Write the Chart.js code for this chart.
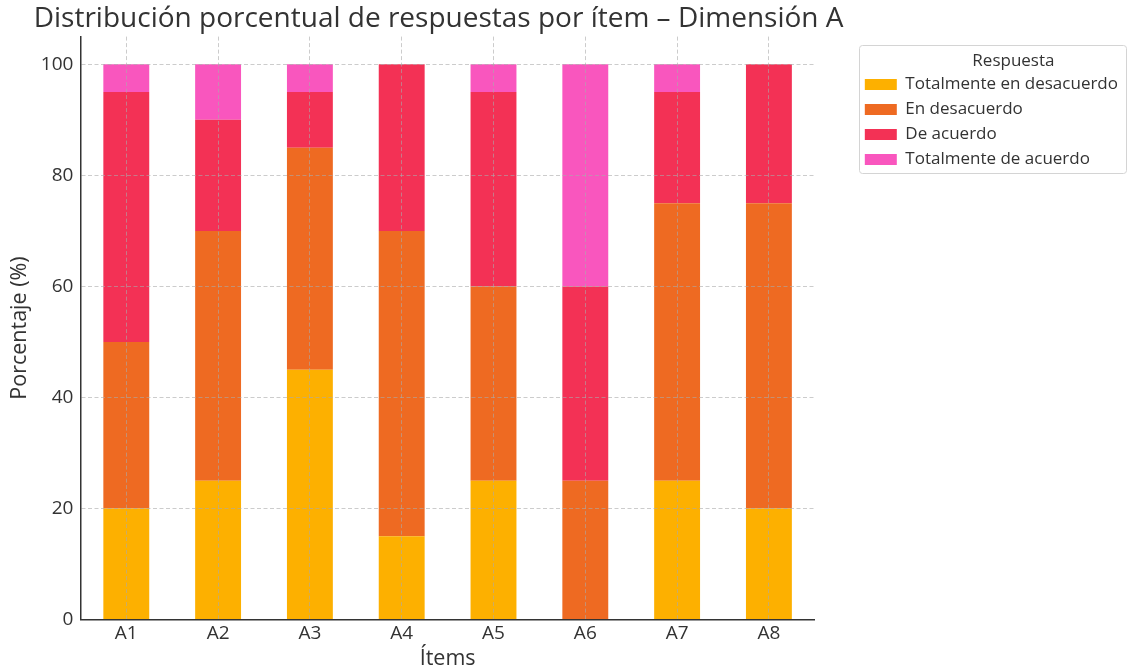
<!DOCTYPE html>
<html>
<head>
<meta charset="utf-8">
<script src="https://cdn.jsdelivr.net/npm/chart.js@4.4.1/dist/chart.umd.min.js"></script>
<style>
  html, body { margin: 0; padding: 0; background: #ffffff; }
  #wrap { width: 1132px; height: 668px; position: relative; }
</style>
</head>
<body>
<div id="wrap"><canvas id="chart"></canvas></div>
<script>
// Items of Dimension A
const items = ['A1', 'A2', 'A3', 'A4', 'A5', 'A6', 'A7', 'A8'];

// Percentage of answers per response option
const totalDesacuerdo = [20, 25, 45, 15, 25, 0, 25, 20];
const enDesacuerdo    = [30, 45, 40, 55, 35, 25, 50, 55];
const deAcuerdo       = [45, 20, 10, 30, 35, 35, 20, 25];
const totalAcuerdo    = [5, 10, 5, 0, 5, 40, 5, 0];

const seriesNames = ['Totalmente en desacuerdo', 'En desacuerdo', 'De acuerdo', 'Totalmente de acuerdo'];
const seriesColors = ['#FDB000', '#EE6A22', '#F33155', '#F956BE'];

// y-axis tick values
const yTicks = [0, 20, 40, 60, 80, 100];

const FONT = "'Open Sans', 'DejaVu Sans', sans-serif";
const TEXT = '#333333';
const GRID = 'rgba(170,170,170,0.6)';
const LEGEND_GAP = 42;     // empty space between plot area and legend frame
const TITLE_SHIFT = -9;    // title sits slightly left of the plot centre

// Widen the legend box and push its content right, leaving a gap after the plot;
// keep the full-width title centred over the plot area instead of the canvas
const layoutTweaks = {
  id: 'layoutTweaks',
  afterInit(chart) {
    const lg = chart.legend;
    if (!lg) return;
    const fit = lg.fit;
    lg.fit = function () { fit.call(this); this.width += LEGEND_GAP; };
  },
  afterLayout(chart) {
    if (chart.legend) chart.legend.left += LEGEND_GAP;
    const tb = chart.titleBlock;
    if (tb) {
      const area = chart.chartArea;
      const dx = (area.left + area.right) / 2 + TITLE_SHIFT - (tb.left + tb.right) / 2;
      tb.left += dx;
      tb.right += dx;
    }
  }
};

// Thin rounded frame around the legend title and entries
const legendFrame = {
  id: 'legendFrame',
  afterDraw(chart) {
    const lg = chart.legend;
    if (!lg || !lg.legendHitBoxes || !lg.legendHitBoxes.length) return;
    let l = Infinity, r = -Infinity, b = -Infinity;
    lg.legendHitBoxes.forEach(h => {
      l = Math.min(l, h.left); r = Math.max(r, h.left + h.width); b = Math.max(b, h.top + h.height);
    });
    const x = Math.round(l - 6), y = Math.round(lg.top + 45);
    const w = Math.round(r - l + 14), h = Math.round(b + 5 - y);
    const ctx = chart.ctx;
    ctx.save();
    ctx.strokeStyle = '#d4d4d4';
    ctx.lineWidth = 1;
    ctx.beginPath();
    ctx.roundRect(x + 0.5, y + 0.5, w, h, 3);
    ctx.stroke();
    ctx.restore();
  }
};

const datasets = [totalDesacuerdo, enDesacuerdo, deAcuerdo, totalAcuerdo].map((vals, i) => ({
  label: seriesNames[i],
  data: vals,
  backgroundColor: seriesColors[i],
  borderWidth: 0,
  barPercentage: 0.5,
  categoryPercentage: 1.0
}));

new Chart(document.getElementById('chart'), {
  type: 'bar',
  data: { labels: items, datasets },
  plugins: [layoutTweaks, legendFrame],
  options: {
    responsive: true,
    maintainAspectRatio: false,
    animation: false,
    layout: { padding: { left: 7, right: 4, top: 0, bottom: -2 } },
    plugins: {
      title: {
        display: true,
        text: 'Distribución porcentual de respuestas por ítem – Dimensión A',
        color: TEXT,
        font: { family: FONT, size: 28, weight: 'normal' },
        padding: { top: 2, bottom: 1 }
      },
      legend: {
        position: 'right',
        align: 'start',
        title: {
          display: true,
          text: 'Respuesta',
          color: TEXT,
          font: { family: FONT, size: 17, lineHeight: 1 },
          padding: { top: 53, bottom: -2 }
        },
        labels: {
          color: TEXT,
          font: { family: FONT, size: 17 },
          boxWidth: 32,
          boxHeight: 11,
          padding: 8
        }
      },
      tooltip: { enabled: false }
    },
    scales: {
      x: {
        stacked: true,
        offset: true,
        grid: {
          offset: false,
          drawTicks: false,
          color: GRID,
          lineWidth: 1,
          z: 1
        },
        border: { display: true, color: TEXT, width: 1.5, dash: [4, 2.5], z: 2 },
        ticks: { color: TEXT, font: { family: FONT, size: 19, lineHeight: 1 }, padding: 4.5 },
        title: {
          display: true,
          text: 'Ítems',
          color: TEXT,
          font: { family: FONT, size: 21.5, lineHeight: 1 },
          padding: { top: 1, bottom: 0 }
        }
      },
      y: {
        stacked: true,
        min: 0,
        max: 105,
        afterBuildTicks(scale) {
          scale.ticks = yTicks.map(v => ({ value: v }));
        },
        grid: {
          drawTicks: false,
          color: GRID,
          lineWidth: 1,
          z: 1
        },
        border: { display: true, color: TEXT, width: 1.5, dash: [4, 2.5], z: 2 },
        ticks: { color: TEXT, font: { family: FONT, size: 19 }, padding: 7 },
        title: {
          display: true,
          text: 'Porcentaje (%)',
          color: TEXT,
          font: { family: FONT, size: 21.5 },
          padding: { top: 0, bottom: 1 }
        }
      }
    }
  }
});
</script>
</body>
</html>
